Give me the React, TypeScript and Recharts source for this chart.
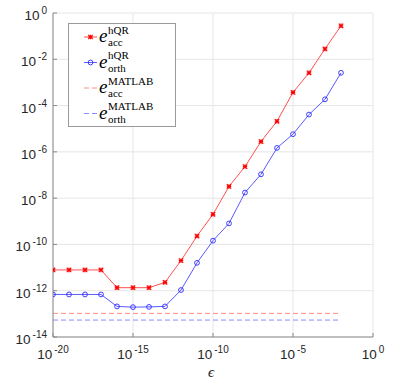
import { LineChart, Line, XAxis, YAxis, CartesianGrid, Legend } from "recharts";

const epsilon = [
  1e-20, 1e-19, 1e-18, 1e-17, 1e-16, 1e-15, 1e-14, 1e-13, 1e-12, 1e-11,
  1e-10, 1e-9, 1e-8, 1e-7, 1e-6, 1e-5, 1e-4, 1e-3, 1e-2,
];
const accHqr = [
  7.9e-12, 7.9e-12, 7.9e-12, 7.9e-12, 1.35e-12, 1.35e-12, 1.35e-12, 2.3e-12, 2.0e-11, 2.3e-10,
  2.0e-9, 3.2e-8, 2.3e-7, 2.8e-6, 2.1e-5, 3.7e-4, 2.6e-3, 2.8e-2, 0.28,
];
const orthHqr = [
  6.9e-13, 6.9e-13, 6.9e-13, 6.9e-13, 2.1e-13, 1.95e-13, 2.0e-13, 2.1e-13, 1.07e-12, 1.6e-11,
  1.45e-10, 8.1e-10, 1.74e-8, 1.07e-7, 1.48e-6, 5.8e-6, 4.1e-5, 1.86e-4, 2.6e-3,
];
const accMatlab = [1.05e-13, 1.05e-13];
const orthMatlab = [5.4e-14, 5.4e-14];
const matlabRange = [1e-20, 1e-2];

const xTicks = [1e-20, 1e-15, 1e-10, 1e-5, 1];
const yTicks = [1e-14, 1e-12, 1e-10, 1e-8, 1e-6, 1e-4, 1e-2, 1];

const data = epsilon.map((eps, i) => ({ eps, acc: accHqr[i], orth: orthHqr[i] }));
const accMatlabData = matlabRange.map((eps, i) => ({ eps, v: accMatlab[i] }));
const orthMatlabData = matlabRange.map((eps, i) => ({ eps, v: orthMatlab[i] }));

const AXIS = "#8a8a8a";
const LABEL = "#262626";
const SANS = "'Liberation Sans', Arial, sans-serif";
const SERIF = "'Liberation Serif', 'Times New Roman', serif";

const exp = (v: number) => Math.round(Math.log10(v));

function BottomTick({ x, y, payload }: any) {
  return (
    <g>
      <line x1={x} x2={x} y1={y} y2={y - 4} stroke={AXIS} />
      <text x={x} y={y + 22} textAnchor="middle" fill={LABEL} fontFamily={SANS} fontSize={13.5}>
        <tspan>10</tspan>
        <tspan dx={2} dy={-6} fontSize={10}>{exp(payload.value)}</tspan>
      </text>
    </g>
  );
}

function LeftTick({ x, y, payload }: any) {
  return (
    <g>
      <line x1={x} x2={x + 4} y1={y} y2={y} stroke={AXIS} />
      <text x={x - 6} y={y + 7} textAnchor="end" fill={LABEL} fontFamily={SANS} fontSize={13.5}>
        <tspan>10</tspan>
        <tspan dx={2} dy={-6} fontSize={10}>{exp(payload.value)}</tspan>
      </text>
    </g>
  );
}

function TopTick({ x, y }: any) {
  return <line x1={x} x2={x} y1={y} y2={y + 4} stroke={AXIS} />;
}

function RightTick({ x, y }: any) {
  return <line x1={x} x2={x - 4} y1={y} y2={y} stroke={AXIS} />;
}

function Star({ cx, cy }: any) {
  const r = 2.2;
  return (
    <g stroke="#ff0000" strokeWidth={1.2}>
      <line x1={cx - r} x2={cx + r} y1={cy} y2={cy} />
      <line x1={cx} x2={cx} y1={cy - r} y2={cy + r} />
      <line x1={cx - r} x2={cx + r} y1={cy - r} y2={cy + r} />
      <line x1={cx - r} x2={cx + r} y1={cy + r} y2={cy - r} />
    </g>
  );
}

function Ring({ cx, cy }: any) {
  return <circle cx={cx} cy={cy} r={2.4} fill="none" stroke="#2b2bff" strokeWidth={0.9} />;
}

const legendRows = [
  { sup: "hQR", sub: "acc", color: "#ff5050", dash: undefined, mark: "star" },
  { sup: "hQR", sub: "orth", color: "#5a5aff", dash: undefined, mark: "ring" },
  { sup: "MATLAB", sub: "acc", color: "#ff8c8c", dash: "5 3", mark: "" },
  { sup: "MATLAB", sub: "orth", color: "#8c8cff", dash: "5 3", mark: "" },
];

function LegendBox() {
  return (
    <svg width={108} height={104} style={{ display: "block" }}>
      <rect x={0.5} y={0.5} width={107} height={103} fill="#fff" stroke="#9a9a9a" />
      {legendRows.map((r, i) => {
        const cy = 14 + i * 25.5;
        return (
          <g key={i}>
            <line x1={16} x2={29} y1={cy} y2={cy} stroke={r.color} strokeDasharray={r.dash} />
            {r.mark === "star" && <Star cx={22.5} cy={cy} />}
            {r.mark === "ring" && <Ring cx={22.5} cy={cy} />}
            <text x={31} y={cy + 5} fontFamily={SERIF} fill="#000">
              <tspan fontStyle="italic" fontSize={19}>e</tspan>
            </text>
            <text x={40} y={cy - 3.5} fontFamily={SERIF} fontSize={11} fill="#000">{r.sup}</text>
            <text x={40} y={cy + 9} fontFamily={SERIF} fontSize={11} fill="#000">{r.sub}</text>
          </g>
        );
      })}
    </svg>
  );
}

export default function App() {
  return (
    <div style={{ position: "absolute", left: 0, top: 0, width: 407, height: 385, background: "#fff" }}>
      <LineChart width={407} height={385} data={data} margin={{ top: 13, right: 34, bottom: 0, left: 0 }}>
        <CartesianGrid stroke="#e6e6e6" strokeWidth={1} horizontalValues={yTicks} verticalValues={xTicks} />
        <XAxis
          dataKey="eps"
          type="number"
          scale="log"
          domain={[1e-20, 1]}
          ticks={xTicks}
          allowDataOverflow
          height={48}
          stroke={AXIS}
          tickLine={false}
          tickSize={0}
          tickMargin={0}
          tick={<BottomTick />}
          interval={0}
        />
        <XAxis
          xAxisId="top"
          orientation="top"
          dataKey="eps"
          type="number"
          scale="log"
          domain={[1e-20, 1]}
          ticks={xTicks}
          allowDataOverflow
          height={0}
          stroke={AXIS}
          tickLine={false}
          tickSize={0}
          tickMargin={0}
          tick={<TopTick />}
          interval={0}
        />
        <YAxis
          type="number"
          scale="log"
          domain={[1e-14, 1]}
          ticks={yTicks}
          allowDataOverflow
          width={53}
          stroke={AXIS}
          tickLine={false}
          tickSize={0}
          tickMargin={0}
          tick={<LeftTick />}
          interval={0}
        />
        <YAxis
          yAxisId="right"
          orientation="right"
          type="number"
          scale="log"
          domain={[1e-14, 1]}
          ticks={yTicks}
          allowDataOverflow
          width={0}
          stroke={AXIS}
          tickLine={false}
          tickSize={0}
          tickMargin={0}
          tick={<RightTick />}
          interval={0}
        />
        <Legend
          layout="vertical"
          align="center"
          verticalAlign="middle"
          wrapperStyle={{ left: 68, top: 23, width: 108, height: 104 }}
          content={() => <LegendBox />}
        />
        <Line data={accMatlabData} dataKey="v" stroke="#ff8c8c" strokeWidth={1} strokeDasharray="5 3" dot={false} activeDot={false} isAnimationActive={false} />
        <Line data={orthMatlabData} dataKey="v" stroke="#8c8cff" strokeWidth={1} strokeDasharray="5 3" dot={false} activeDot={false} isAnimationActive={false} />
        <Line dataKey="acc" stroke="#ff5050" strokeWidth={1} dot={<Star />} activeDot={false} isAnimationActive={false} />
        <Line dataKey="orth" stroke="#5a5aff" strokeWidth={1} dot={<Ring />} activeDot={false} isAnimationActive={false} />
      </LineChart>
      <div
        style={{
          position: "absolute",
          left: 208,
          top: 364,
          fontFamily: SERIF,
          fontStyle: "italic",
          fontSize: 15,
          color: LABEL,
        }}
      >
        ϵ
      </div>
    </div>
  );
}
